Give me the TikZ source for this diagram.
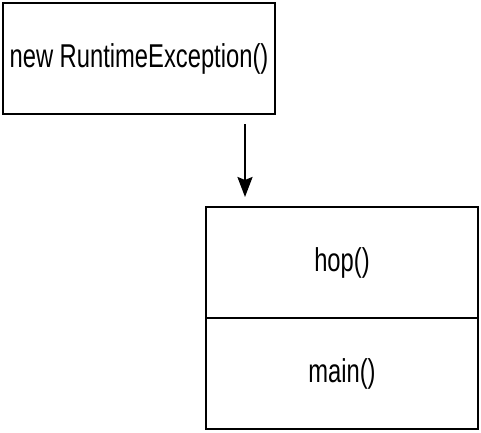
\documentclass[tikz,border=0pt]{standalone}
\usepackage{fontspec}
\newfontfamily\condfont[FakeStretch=0.72]{Liberation Sans}
\usetikzlibrary{arrows.meta}
\begin{document}
\begin{tikzpicture}[x=1pt,y=-1pt,
  boxstyle/.style={draw=black,line width=2.2pt,rectangle,minimum width=272pt,minimum height=111pt,inner sep=0pt,font=\condfont\fontsize{33}{36}\selectfont},
  arrowstyle/.style={line width=2.2pt,-{Stealth[width=15pt,length=20pt,inset=3pt]}}]
\useasboundingbox (0,0) rectangle (481,432);
\node[boxstyle] (exc) at (139,58.5) {new RuntimeException()};
\node[boxstyle] (hop) at (342,262.5) {hop()};
\node[boxstyle] (main) at (342,373.5) {main()};
\coordinate (as) at (245,124);
\coordinate (ae) at (245,197);
\draw[arrowstyle] (as) -- (ae);
\end{tikzpicture}
\end{document}
